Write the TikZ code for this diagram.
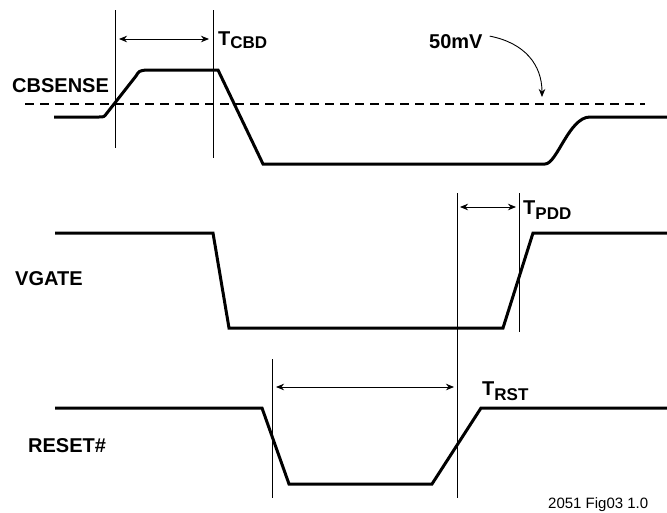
\documentclass[tikz,border=0pt]{standalone}
\usepackage{fontspec}
\setmainfont{Liberation Sans}
\usepackage{tikz}
\usetikzlibrary{arrows.meta, calc}

\newcommand{\tsub}[2]{T\lower#1pt\hbox{\fontsize{17}{20}\selectfont #2}}

\begin{document}
\begin{tikzpicture}[
    x=1pt, y=-1pt,
    >={Stealth[length=8pt,width=6.5pt,inset=2.5pt]},
    sig/.style={line width=3pt, line join=miter},
    guide/.style={line width=0.9pt},
    dim/.style={line width=0.9pt, <->},
    lbl/.style={inner sep=0pt, anchor=base west, font=\fontsize{20}{24}\selectfont\bfseries},
]
  \useasboundingbox (0,0) rectangle (667,512);
  % Signal names
  \node[lbl] (cbs) at (12,92) {CBSENSE};
  \node[lbl] (vg) at (15,285) {VGATE};
  \node[lbl] (rst) at (28,452) {RESET\#};
  % Timing labels
  \node[lbl] (tcbd) at (218,45) {\tsub{3}{CBD}};
  \node[lbl] (tpdd) at (523,214) {\tsub{5}{PDD}};
  \node[lbl] (trst) at (482,395) {\tsub{5}{RST}};
  \node[lbl] (mv) at (429,48) {50mV};
  \node[inner sep=0pt, anchor=base west, font=\fontsize{15}{18}\selectfont] (fig) at (548,508) {2051 Fig03 1.0};
  % Guide line ends
  \coordinate (g1t) at (115,10);  \coordinate (g1b) at (115,148);
  \coordinate (g2t) at (213,10);  \coordinate (g2b) at (213,158);
  \coordinate (g3t) at (457,193); \coordinate (g3b) at (457,498);
  \coordinate (g4t) at (519,193); \coordinate (g4b) at (519,332);
  \coordinate (g5t) at (272,359); \coordinate (g5b) at (272,498);
  % Threshold
  \coordinate (thl) at (25,104);
  \coordinate (thr) at (645,104);
  \coordinate (mvtip) at (542,97);
  % Waveforms
  \draw[sig] (54,117) -- (99,117) .. controls (104,117) .. (107,113) -- (136,76)
      .. controls (139,71) .. (146,70) -- (218,70) -- (263,164) -- (545,164)
      .. controls (557,164) and (569,117) .. (590,117) -- (667,117);
  \draw[sig] (55,233) -- (213,233) -- (229,328) -- (503,328) -- (533,233) -- (667,233);
  \draw[sig] (55,408) -- (262,408) -- (289,484) -- (432,484) -- (481,408) -- (667,408);
  \draw[line width=2pt, dash pattern=on 9pt off 6pt] (thl) -- (thr);
  % Guides
  \draw[guide] (g1t) -- (g1b);
  \draw[guide] (g2t) -- (g2b);
  \draw[guide] (g3t) -- (g3b);
  \draw[guide] (g4t) -- (g4b);
  \draw[guide] (g5t) -- (g5b);
  % Dimension arrows
  \draw[dim] ($(g1t)+(4,29)$) -- ($(g2t)+(-4,29)$);
  \draw[dim] ($(g3t)+(3,14)$) -- ($(g4t)+(-3,14)$);
  \draw[dim] ($(g5t)+(4,28)$) -- ($(g3t)+(-3,194)$);
  \draw[guide,->] (mv.east) ++(7,-5) .. controls (525,43) and (542,65) .. (mvtip);
\end{tikzpicture}
\end{document}
